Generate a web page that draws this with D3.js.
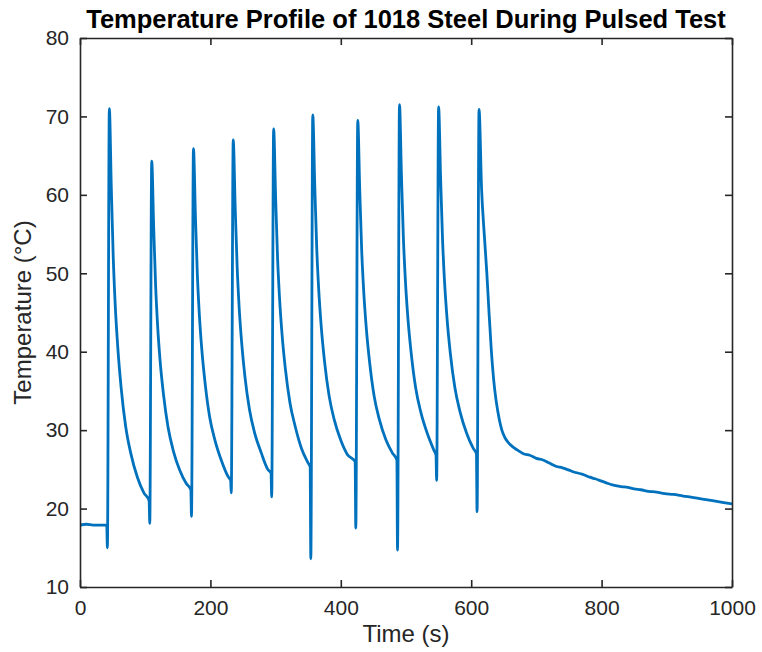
<!DOCTYPE html>
<html>
<head>
<meta charset="utf-8">
<script src="https://cdn.jsdelivr.net/npm/d3@7"></script>
<style>
  body { margin: 0; background: #fff; }
  svg { display: block; font-family: "Liberation Sans", Arial, Helvetica, sans-serif; }
  .axis path, .axis line { stroke: #262626; stroke-width: 1.6; }
  .axis text { fill: #262626; font-size: 21px; }
</style>
</head>
<body>
<svg width="762" height="652"></svg>
<script>
// readings taken off the plot: time (s) and temperature (°C)
var times = [
  0, 10, 20, 30, 41,
  42, 45, 48, 51, 54, 58, 63, 70, 78, 88, 98, 106,
  107, 110, 113, 116, 119, 123, 128, 135, 143, 153, 163, 170,
  171, 174, 177, 180, 183, 187, 192, 199, 207, 217, 227, 231,
  232, 235, 238, 241, 244, 248, 253, 260, 268, 278, 288, 293,
  294, 297, 300, 303, 306, 310, 315, 322, 330, 340, 350, 353,
  354, 357, 360, 363, 366, 370, 375, 382, 390, 400, 410, 422,
  423, 426, 429, 432, 435, 439, 444, 451, 459, 469, 479, 486,
  487, 490, 493, 496, 499, 503, 508, 515, 523, 533, 543, 546,
  547, 550, 553, 556, 559, 563, 568, 575, 583, 593, 603, 608,
  609, 612, 616, 620, 624, 627, 631, 636, 641, 647, 652, 657, 662, 670, 680,
  690, 700, 710, 720, 730, 740, 750, 760, 770, 782, 790, 800, 810, 818,
  830, 840, 850, 860, 872, 884, 897, 910, 925, 941, 955, 970, 985, 1000
];
var temps = [
  17.9, 18.0, 17.9, 17.9, 17.9,
  15.0, 71.0, 61.0, 52.0, 46.0, 40.5, 35.5, 30.5, 27.0, 24.0, 22.0, 21.0,
  18.1, 64.3, 55.9, 48.4, 43.4, 38.7, 34.6, 30.4, 27.4, 24.9, 23.2, 22.4,
  19.0, 65.9, 57.4, 49.8, 44.8, 40.1, 35.9, 31.6, 28.7, 26.1, 24.1, 23.6,
  22.0, 67.0, 58.5, 50.9, 45.8, 41.1, 36.8, 32.6, 29.6, 27.1, 25.0, 24.5,
  21.5, 68.4, 59.8, 52.0, 46.9, 42.1, 37.8, 33.5, 30.5, 27.6, 25.8, 25.3,
  13.6, 70.2, 61.4, 53.4, 48.1, 43.2, 38.8, 34.4, 31.3, 28.7, 26.9, 26.0,
  17.5, 69.5, 60.8, 53.0, 47.9, 43.1, 38.8, 34.4, 31.4, 28.8, 27.1, 26.2,
  14.7, 71.5, 62.6, 54.5, 49.2, 44.2, 39.8, 35.3, 32.2, 29.5, 27.4, 26.8,
  23.6, 71.2, 62.4, 54.4, 49.1, 44.2, 39.8, 35.4, 32.3, 29.6, 27.7, 27.0,
  19.6, 70.9, 60.6, 55.0, 50.0, 45.5, 40.0, 35.2, 32.3, 30.0, 29.0, 28.4, 28.0, 27.5, 27.0,
  26.8, 26.4, 26.2, 25.8, 25.4, 25.2, 24.9, 24.6, 24.4, 24.0, 23.8, 23.5, 23.2, 23.0,
  22.8, 22.7, 22.5, 22.4, 22.2, 22.1, 21.9, 21.8, 21.6, 21.4, 21.2, 21.0, 20.8, 20.6
];
var xTicks = [0, 200, 400, 600, 800, 1000];
var yTicks = [10, 20, 30, 40, 50, 60, 70, 80];

var svg = d3.select("svg"),
    width = +svg.attr("width"),
    height = +svg.attr("height"),
    margin = {top: 38, right: 30, bottom: 65, left: 80},
    w = width - margin.left - margin.right,
    h = height - margin.top - margin.bottom,
    g = svg.append("g").attr("transform", "translate(" + margin.left + "," + margin.top + ")");

var x = d3.scaleLinear().domain([0, 1000]).range([0, w]);
var y = d3.scaleLinear().domain([10, 80]).range([h, 0]);

var data = times.map(function(t, i) { return {t: t, v: temps[i]}; });

g.append("clipPath").attr("id", "clip")
  .append("rect").attr("width", w).attr("height", h);

var line = d3.line()
    .curve(d3.curveMonotoneX)
    .x(function(d) { return x(d.t); })
    .y(function(d) { return y(d.v); });

g.append("path")
    .datum(data)
    .attr("clip-path", "url(#clip)")
    .attr("fill", "none")
    .attr("stroke", "#0072BD")
    .attr("stroke-width", 2.8)
    .attr("stroke-linejoin", "round")
    .attr("d", line);

// box with inward ticks on all four sides (matlab look)
g.append("g").attr("class", "axis")
    .attr("transform", "translate(0," + h + ")")
    .call(d3.axisBottom(x).tickValues(xTicks).tickFormat(d3.format("d"))
      .tickSizeInner(-7).tickSizeOuter(0).tickPadding(13));
g.append("g").attr("class", "axis")
    .call(d3.axisTop(x).tickValues(xTicks).tickSizeInner(-7).tickSizeOuter(0).tickFormat(""));
g.append("g").attr("class", "axis")
    .call(d3.axisLeft(y).tickValues(yTicks).tickSizeInner(-7).tickSizeOuter(0).tickPadding(11));
g.append("g").attr("class", "axis")
    .attr("transform", "translate(" + w + ",0)")
    .call(d3.axisRight(y).tickValues(yTicks).tickSizeInner(-7).tickSizeOuter(0).tickFormat(""));

svg.selectAll(".axis text").attr("font-family", null);

svg.append("text")
    .attr("x", margin.left + w / 2)
    .attr("y", 28)
    .attr("text-anchor", "middle")
    .style("font-size", "25.5px")
    .style("font-weight", "bold")
    .attr("fill", "#000")
    .text("Temperature Profile of 1018 Steel During Pulsed Test");

svg.append("text")
    .attr("x", margin.left + w / 2)
    .attr("y", 642)
    .attr("text-anchor", "middle")
    .style("font-size", "24px")
    .attr("fill", "#262626")
    .text("Time (s)");

svg.append("text")
    .attr("transform", "translate(31," + (margin.top + h / 2) + ") rotate(-90)")
    .attr("text-anchor", "middle")
    .style("font-size", "24px")
    .attr("fill", "#262626")
    .text("Temperature (°C)");
</script>
</body>
</html>
